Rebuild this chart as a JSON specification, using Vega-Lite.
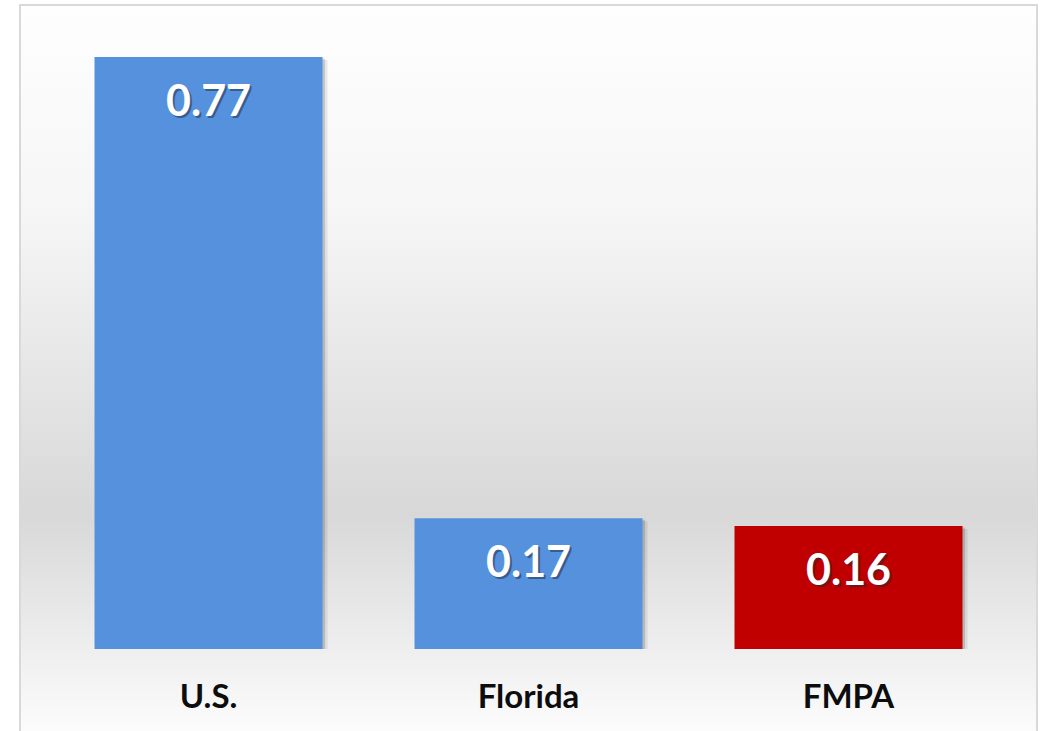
{
  "$schema": "https://vega.github.io/schema/vega-lite/v6.json",
  "autosize": "none",
  "width": 1017,
  "height": 727,
  "padding": {"left": 20, "top": 5, "right": 6, "bottom": 0},
  "background": "#ffffff",
  "config": {
    "view": {
      "stroke": "#d9d9d9",
      "strokeWidth": 2,
      "fill": {
        "gradient": "linear",
        "x1": 0, "y1": 0, "x2": 0, "y2": 1,
        "stops": [
          {"offset": 0, "color": "#fefefe"},
          {"offset": 0.28, "color": "#f6f6f6"},
          {"offset": 0.7, "color": "#d8d8d8"},
          {"offset": 1, "color": "#fcfcfc"}
        ]
      }
    }
  },
  "data": {
    "values": [
      {"entity": "U.S.", "value": 0.77},
      {"entity": "Florida", "value": 0.17},
      {"entity": "FMPA", "value": 0.16}
    ]
  },
  "encoding": {
    "x": {
      "field": "entity",
      "type": "nominal",
      "sort": null,
      "scale": {"paddingInner": 0.2875, "paddingOuter": 0.2328},
      "axis": {
        "title": null,
        "orient": "bottom",
        "offset": -83,
        "domain": false,
        "ticks": false,
        "labelAngle": 0,
        "labelPadding": 58,
        "labelBaseline": "alphabetic",
        "labelFont": "Lato",
        "labelFontWeight": "bold",
        "labelFontSize": 33,
        "labelColor": "#0d0d0d"
      }
    },
    "y": {
      "field": "value",
      "type": "quantitative",
      "scale": {"domain": [-0.10796, 0.8377], "zero": false, "nice": false},
      "axis": null
    }
  },
  "layer": [
    {
      "mark": {"type": "bar", "color": "#000000", "opacity": 0.08, "xOffset": 5, "yOffset": 3},
      "encoding": {"y2": {"datum": 0}}
    },
    {
      "mark": {"type": "bar", "color": "#000000", "opacity": 0.15, "xOffset": 2.5, "yOffset": 1.5},
      "encoding": {"y2": {"datum": 0}}
    },
    {
      "mark": {"type": "bar"},
      "encoding": {
        "y2": {"datum": 0},
        "color": {
          "field": "entity",
          "type": "nominal",
          "scale": {"domain": ["U.S.", "Florida", "FMPA"], "range": ["#5591dc", "#5591dc", "#c00000"]},
          "legend": null
        }
      }
    },
    {
      "mark": {"type": "text", "baseline": "alphabetic", "dx": 2, "dy": 61, "font": "Lato", "fontWeight": "bold", "fontSize": 43, "color": "#1a2a40"},
      "encoding": {
        "text": {"field": "value", "type": "quantitative", "format": ".2f"},
        "opacity": {
          "field": "entity",
          "type": "nominal",
          "scale": {"domain": ["U.S.", "Florida", "FMPA"], "range": [0.5, 0.5, 0.2]},
          "legend": null
        }
      }
    },
    {
      "mark": {"type": "text", "baseline": "alphabetic", "dy": 59, "font": "Lato", "fontWeight": "bold", "fontSize": 43, "color": "#ffffff"},
      "encoding": {
        "text": {"field": "value", "type": "quantitative", "format": ".2f"}
      }
    }
  ]
}
